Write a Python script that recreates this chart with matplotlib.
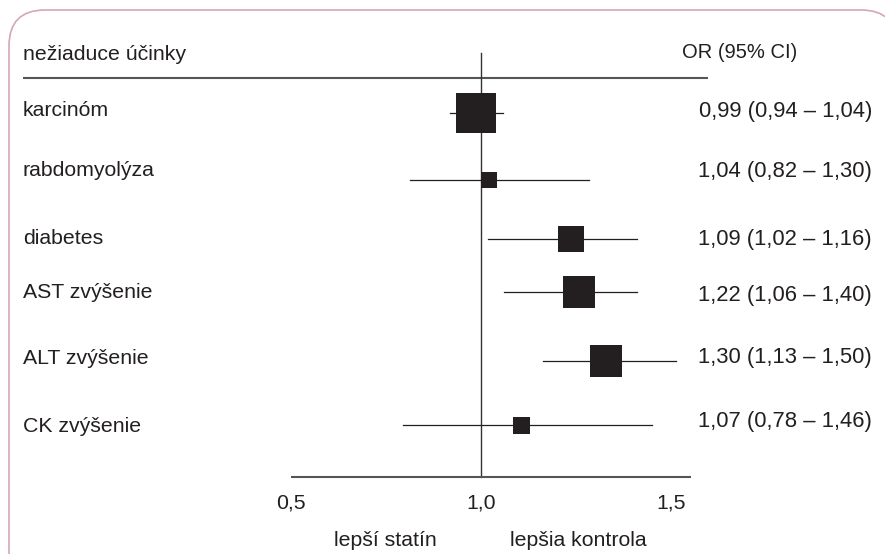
import matplotlib
matplotlib.use("Agg")
import matplotlib.pyplot as plt
import matplotlib.transforms as mtransforms
from matplotlib.patches import FancyBboxPatch

# ---- data ----
outcomes = ["karcinóm", "rabdomyolýza", "diabetes", "AST zvýšenie", "ALT zvýšenie", "CK zvýšenie"]
or_labels = ["0,99 (0,94 – 1,04)", "1,04 (0,82 – 1,30)", "1,09 (1,02 – 1,16)",
             "1,22 (1,06 – 1,40)", "1,30 (1,13 – 1,50)", "1,07 (0,78 – 1,46)"]
point_est = [0.987, 1.020, 1.236, 1.257, 1.330, 1.104]
ci_low = [0.918, 0.813, 1.018, 1.061, 1.163, 0.795]
ci_high = [1.058, 1.284, 1.411, 1.411, 1.513, 1.450]
weights = [40, 16.5, 25.5, 32.5, 32.5, 17]          # square side (relative weight)
tick_values = [0.5, 1.0, 1.5]
tick_labels = ["0,5", "1,0", "1,5"]
header_left = "nežiaduce účinky"
header_right = "OR (95% CI)"
left_note = "lepší statín"
right_note = "lepšia kontrola"

# ---- layout (pixel rows from top) ----
W, H = 885, 554
marker_rows = [113, 180, 239, 292, 361, 424.5]
left_rows = [111, 170, 239, 293, 359, 427]
right_rows = [111, 171, 240, 296, 357, 421]
ref_px, unit_px = 481, 380

fig = plt.figure(figsize=(W / 100, H / 100), dpi=100)
ax = fig.add_axes([0, 0, 1, 1])
ax.set_xlim(1 - ref_px / unit_px, 1 + (W - ref_px) / unit_px)
ax.set_ylim(H, 0)
ax.axis("off")

pxT = mtransforms.Affine2D().scale(1 / W, -1 / H).translate(0, 1) + fig.transFigure
bx = mtransforms.blended_transform_factory(ax.transData, pxT)

txt = "#231f20"
font = ["Liberation Sans", "DejaVu Sans"]
fs = 15.3

# rounded frame (right and bottom sides run off the canvas)
frame = FancyBboxPatch((9, 10), 888, 1000, boxstyle="round,pad=0,rounding_size=36",
                       transform=pxT, fill=False, edgecolor="#d5a6b6", lw=1.2,
                       clip_on=False)
fig.add_artist(frame)

# header
ax.text(23, 55, header_left, transform=pxT, ha="left", va="center",
        fontsize=fs, color=txt, family=font)
ax.text(682, 53, header_right, transform=pxT, ha="left", va="center",
        fontsize=14.5, color=txt, family=font)
ax.plot([23, 708], [78, 78], transform=pxT, color="#555555", lw=1.5,
        solid_capstyle="butt")

# reference line at OR = 1
ax.plot([1, 1], [53, 477], transform=bx, color="#333333", lw=1.0, zorder=2)

# CI lines and squares
for i in range(len(outcomes)):
    y = marker_rows[i]
    ax.plot([ci_low[i], ci_high[i]], [y, y], transform=bx, color="#231f20",
            lw=0.9, zorder=3)
    ax.plot([point_est[i]], [y], transform=bx, marker="s",
            markersize=weights[i] * 0.72, markeredgewidth=0,
            color="#231f20", zorder=4)
    ax.text(23, left_rows[i], outcomes[i], transform=pxT, ha="left",
            va="center", fontsize=fs, color=txt, family=font)
    ax.text(872, right_rows[i], or_labels[i], transform=pxT, ha="right",
            va="center", fontsize=15.8, color=txt, family=font)

# x axis
ax.plot([tick_values[0], 1.553], [477, 477], transform=bx, color="#555555",
        lw=1.5, solid_capstyle="butt")
for v, lab in zip(tick_values, tick_labels):
    ax.text(v, 503, lab, transform=bx, ha="center", va="center",
            fontsize=fs, color=txt, family=font)

ax.text(385, 540, left_note, transform=pxT, ha="center", va="center",
        fontsize=fs, color=txt, family=font)
ax.text(578, 540, right_note, transform=pxT, ha="center", va="center",
        fontsize=fs, color=txt, family=font)

fig.savefig("out.png", dpi=100)
